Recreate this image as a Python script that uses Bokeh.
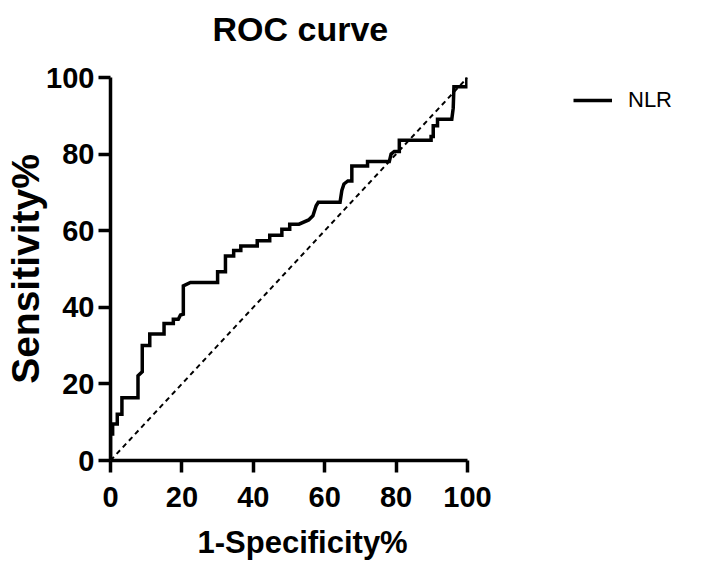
from bokeh.plotting import figure
from bokeh.models import Range1d, Legend, LegendItem, FixedTicker, Title
from bokeh.embed import file_html
from bokeh.resources import INLINE

# ROC curve vertices (1-Specificity %, Sensitivity %)
fpr = [0, 0, 0.6, 0.6, 1.9, 1.9, 3.2, 3.2, 7.7, 7.7, 8.9, 8.9, 11.0, 11.0, 15.0, 15.0,
       17.6, 17.6, 19.0, 19.6, 20.4, 20.4, 22.4, 30.0, 30.0, 32.2, 32.2, 34.5, 34.5,
       36.5, 36.5, 41.1, 41.1, 44.6, 44.6, 48.0, 48.0, 50.2, 50.2, 52.8, 55.5, 56.7,
       57.6, 58.2, 64.3, 64.8, 65.4, 66.5, 67.6, 67.6, 72.0, 72.0, 78.1, 78.6, 79.5,
       80.9, 80.9, 89.8, 89.8, 90.4, 90.4, 91.6, 91.6, 95.6, 96.0, 96.2, 99.8, 99.8, 100]
tpr = [0, 6.9, 6.9, 9.5, 9.5, 12.1, 12.1, 16.4, 16.4, 22.1, 23.2, 30.0, 30.0, 33.0, 33.0, 35.8,
       35.8, 36.9, 36.9, 38.0, 38.2, 45.6, 46.5, 46.5, 49.3, 49.3, 53.4, 53.4, 54.8,
       54.8, 56.0, 56.0, 57.4, 57.4, 58.8, 58.8, 60.4, 60.4, 61.7, 61.7, 62.8, 63.9,
       66.5, 67.4, 67.4, 70.5, 72.2, 73.0, 73.0, 76.9, 76.9, 78.1, 78.1, 80.0, 80.7,
       80.7, 83.6, 83.6, 84.6, 84.6, 87.4, 87.4, 89.1, 89.1, 92.0, 97.6, 97.6, 100, 100]

ref_x = [0, 100]
ref_y = [0, 100]

ticks = [0, 20, 40, 60, 80, 100]
series_name = "NLR"
title_text = "ROC curve"
x_label = "1-Specificity%"
y_label = "Sensitivity%"

FONT = "Liberation Sans"

p = figure(output_backend="svg", toolbar_location=None,
           frame_width=357, frame_height=383,
           x_range=Range1d(0, 100), y_range=Range1d(0, 100),
           min_border_left=110, min_border_right=242, min_border_top=77,
           min_border_bottom=104, title=title_text)

p.title.align = "left"
p.title.offset = 102
p.title.text_font = FONT
p.title.text_font_size = "34px"
p.title.text_font_style = "bold"
p.title.text_color = "black"

# blank spacer between the frame and the title (pushes the title upward)
p.add_layout(Title(text=" ", text_font_size="21px", standoff=0), "above")

p.grid.visible = False
p.outline_line_color = None
p.background_fill_color = "white"
p.border_fill_color = "white"

for ax in (p.xaxis[0], p.yaxis[0]):
    ax.ticker = FixedTicker(ticks=ticks)
    ax.axis_line_width = 3.5
    ax.axis_line_color = "black"
    ax.major_tick_line_width = 3.5
    ax.major_tick_line_color = "black"
    ax.major_tick_out = 12
    ax.major_tick_in = 0
    ax.minor_tick_out = 0
    ax.minor_tick_in = 0
    ax.major_label_text_font = FONT
    ax.major_label_text_font_size = "29px"
    ax.major_label_text_font_style = "bold"
    ax.major_label_text_color = "black"
p.xaxis.major_label_standoff = 14
p.yaxis.major_label_standoff = 4

p.yaxis.axis_label = y_label
p.yaxis.axis_label_text_font = FONT
p.yaxis.axis_label_text_font_size = "39px"
p.yaxis.axis_label_text_font_style = "bold"
p.yaxis.axis_label_text_color = "black"
p.yaxis.axis_label_standoff = -4

p.add_layout(Title(text=x_label, align="left", offset=87, standoff=27,
                   text_font=FONT, text_font_size="31px", text_font_style="bold",
                   text_color="black"), "below")

p.line(ref_x, ref_y, line_color="black", line_width=2, line_dash="5 4")
r = p.line(fpr, tpr, line_color="black", line_width=3.5, line_join="miter")

legend = Legend(items=[LegendItem(label=series_name, renderers=[r])],
                location=(106, 345), padding=0, margin=0, spacing=0,
                glyph_width=39, glyph_height=30, label_standoff=16,
                label_text_font=FONT, label_text_font_size="22px",
                label_text_color="black",
                border_line_color=None, background_fill_alpha=0)
p.add_layout(legend, "right")

open("out.html", "w").write(file_html(p, INLINE))
